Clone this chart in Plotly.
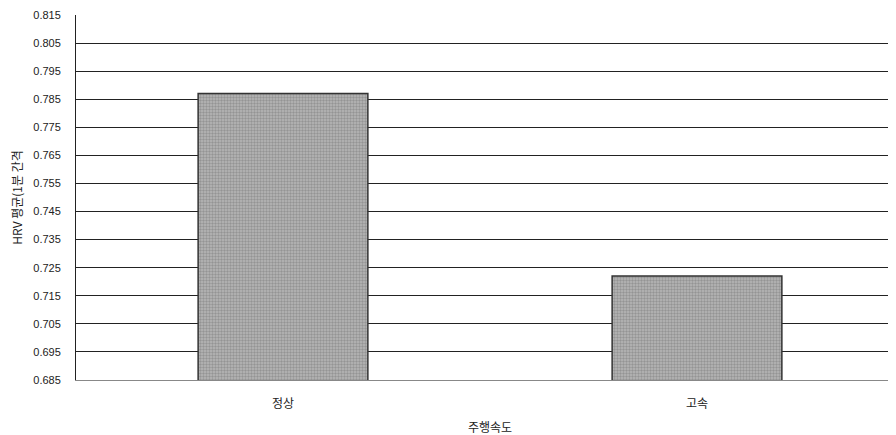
import plotly.graph_objects as go

categories = ["정상", "고속"]
values = [0.787, 0.722]
tick_values = [0.685, 0.695, 0.705, 0.715, 0.725, 0.735, 0.745, 0.755, 0.765, 0.775, 0.785, 0.795, 0.805, 0.815]
tick_labels = ["%.3f" % v for v in tick_values]

fig = go.Figure()
fig.add_trace(go.Bar(
    x=categories, y=values,
    marker=dict(color="#a8a8a8", line=dict(color="#333333", width=1.5),
                pattern=dict(shape=".", fgcolor="#707070", bgcolor="#b8b8b8", size=3, solidity=0.5)),
    width=0.41,
))
fig.update_layout(
    width=896, height=427,
    margin=dict(l=68, r=0, t=7, b=55),
    paper_bgcolor="white", plot_bgcolor="white",
    font=dict(family="Noto Sans CJK KR, DejaVu Sans", size=11, color="#222"),
    showlegend=False,
)
fig.update_yaxes(
    range=[0.685, 0.815], tickvals=tick_values, ticktext=tick_labels,
    showgrid=True, gridcolor="#222", gridwidth=1,
    showline=True, linecolor="#222", linewidth=1, ticks="", ticklen=0,
    ticklabelstandoff=12,
    title=dict(text="HRV 평균(1분 간격", font=dict(size=12), standoff=12),
    tickfont=dict(family="Liberation Sans, Arial", size=11),
)
fig.update_xaxes(
    showline=True, linecolor="#888", linewidth=1,
    ticklabelstandoff=13,
    title=dict(text="주행속도", font=dict(size=12), standoff=14),
    tickfont=dict(size=12),
)
fig.write_html("out.html")
